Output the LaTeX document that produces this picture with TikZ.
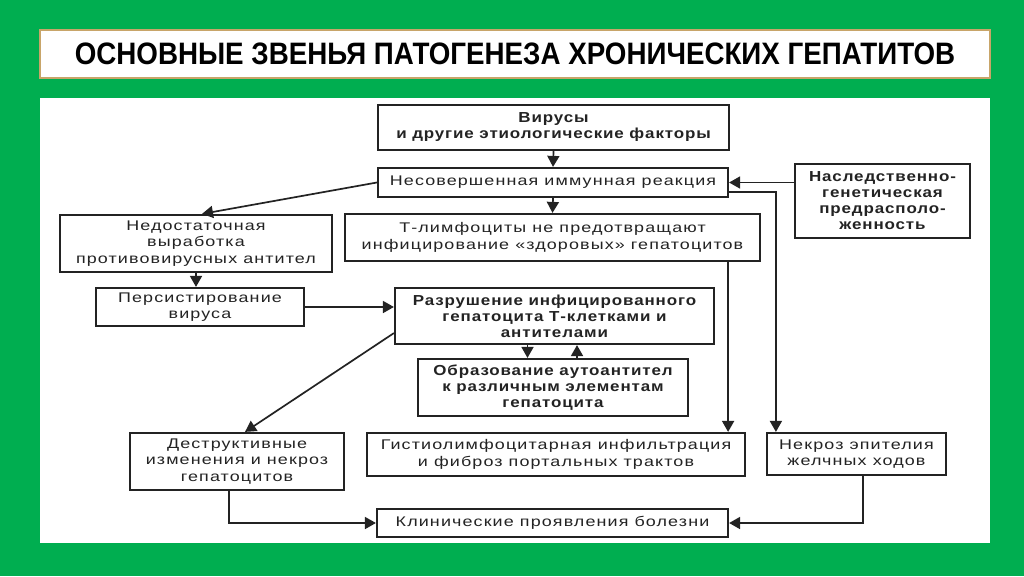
\documentclass[tikz,border=0pt]{standalone}
\usepackage{fontspec}
\setmainfont{Liberation Sans}
\newfontfamily\normfont[FakeStretch=1.28,LetterSpace=8]{Liberation Sans}
\newfontfamily\boldfont[FakeStretch=1.17,LetterSpace=6]{Liberation Sans}
\newfontfamily\titlefont[FakeStretch=0.895]{Liberation Sans}
\usetikzlibrary{arrows.meta,calc}
\definecolor{bggreen}{RGB}{0,174,80}
\definecolor{ink}{RGB}{35,35,35}
\definecolor{tan}{RGB}{200,165,105}
\tikzset{
  box/.style={draw=ink, line width=2.2pt, fill=white, inner sep=0pt, align=center, text=ink},
  nbox/.style={box, font=\normfont\fontsize{14}{16.5}\selectfont},
  bbox/.style={box, font=\boldfont\bfseries\fontsize{14.5}{16}\selectfont},
  arr/.style={draw=ink, line width=1.7pt, -{Triangle[length=11pt,width=12pt]}}
}
\begin{document}
\begin{tikzpicture}[x=1pt,y=-1pt]
\useasboundingbox (0,0) rectangle (1024,576);
\fill[bggreen] (0,0) rectangle (1024,576);
% title
\node[draw=tan, line width=1.5pt, fill=white, minimum width=950pt, minimum height=48pt, inner sep=0pt,
      font=\titlefont\bfseries\fontsize{31}{34}\selectfont] (title) at (515,54)
      {ОСНОВНЫЕ ЗВЕНЬЯ ПАТОГЕНЕЗА ХРОНИЧЕСКИХ ГЕПАТИТОВ};
% content panel
\fill[white] (40,98) rectangle (990,543);
% boxes
\node[bbox, minimum width=351pt, minimum height=45pt] (vir) at (553.5,127.5) {Вирусы\\и другие этиологические факторы};
\node[nbox, minimum width=350pt, minimum height=29pt] (nes) at (553,182.5) {Несовершенная иммунная реакция};
\node[bbox, minimum width=175pt, minimum height=74pt] (nasl) at (882.5,201) {Наследственно-\\генетическая\\предрасполо-\\женность};
\node[nbox, minimum width=272pt, minimum height=57pt] (ned) at (196,243.5) {Недостаточная\\выработка\\противовирусных антител};
\node[nbox, minimum width=415pt, minimum height=47pt] (tlim) at (552.5,237.5) {Т-лимфоциты не предотвращают\\инфицирование «здоровых» гепатоцитов};
\node[nbox, minimum width=208pt, minimum height=38pt] (pers) at (200,307) {Персистирование\\вируса};
\node[bbox, minimum width=319pt, minimum height=56pt] (raz) at (554.5,316) {Разрушение инфицированного\\гепатоцита Т-клетками и\\антителами};
\node[bbox, minimum width=270pt, minimum height=57pt] (obr) at (553,387.5) {Образование аутоантител\\к различным элементам\\гепатоцита};
\node[nbox, minimum width=214pt, minimum height=57pt] (des) at (237,461.5) {Деструктивные\\изменения и некроз\\гепатоцитов};
\node[nbox, minimum width=378pt, minimum height=43pt] (gis) at (556,454.5) {Гистиолимфоцитарная инфильтрация\\и фиброз портальных трактов};
\node[nbox, minimum width=179pt, minimum height=42pt] (nek) at (856.5,454) {Некроз эпителия\\желчных ходов};
\node[nbox, minimum width=351pt, minimum height=28pt] (kli) at (552.5,523) {Клинические проявления болезни};
% connectors
\draw[arr] (vir.south) -- (nes.north);
\draw[arr] (nes.west) -- ($(ned.north)+(6,0)$);
\draw[arr] (nes.south) -- (tlim.north);
\draw[arr] (nasl.west |- nes.east) -- (nes.east);
\coordinate (rt) at ($(nek.north west)+(10,0)$);
\draw[arr] ($(nes.east)+(0,9.5)$) -| (rt);
\coordinate (tl) at ($(tlim.south east)+(-33,0)$);
\draw[arr] (tl) -- (tl |- gis.north);
\draw[arr] (ned.south) -- (ned.south |- pers.north);
\draw[arr] (pers.east) -- (raz.west |- pers.east);
\draw[arr] ($(raz.south west)+(0,-12)$) -- ($(des.north)+(8,0)$);
\coordinate (dn) at ($(raz.south)+(-27,0)$);
\draw[arr] (dn) -- (dn |- obr.north);
\coordinate (up) at ($(obr.north)+(24,0)$);
\draw[arr] (up) -- (up |- raz.south);
\draw[arr] ($(des.south)+(-8,0)$) |- (kli.west);
\draw[arr] ($(nek.south)+(6.5,0)$) |- (kli.east);
\end{tikzpicture}
\end{document}
